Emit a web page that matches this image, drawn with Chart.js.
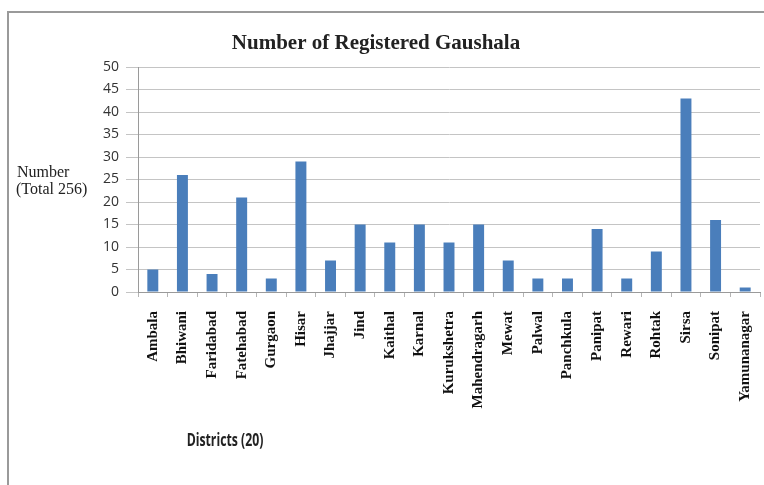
<!DOCTYPE html>
<html>
<head>
<meta charset="utf-8">
<script src="https://cdn.jsdelivr.net/npm/chart.js@4.4.1/dist/chart.umd.min.js"></script>
<style>
  html, body { margin: 0; padding: 0; background: #fff; }
  #wrap { width: 764px; height: 485px; position: relative; }
</style>
</head>
<body>
<div id="wrap"><canvas id="c"></canvas></div>
<script>
const districts = ['Ambala', 'Bhiwani', 'Faridabad', 'Fatehabad', 'Gurgaon', 'Hisar', 'Jhajjar', 'Jind',
  'Kaithal', 'Karnal', 'Kurukshetra', 'Mahendragarh', 'Mewat', 'Palwal', 'Panchkula', 'Panipat',
  'Rewari', 'Rohtak', 'Sirsa', 'Sonipat', 'Yamunanagar'];
const gaushalas = [5, 26, 4, 21, 3, 29, 7, 15, 11, 15, 11, 15, 7, 3, 3, 14, 3, 9, 43, 16, 1];
const yTicks = [0, 5, 10, 15, 20, 25, 30, 35, 40, 45, 50];

const chartTitle = 'Number of Registered Gaushala';
const yLabel = ['Number', '(Total 256)'];
const xLabel = 'Districts (20)';

// frame + free-floating texts (the original is an Excel chart pasted into a doc)
const decor = {
  id: 'decor',
  beforeDraw(chart) {
    const ctx = chart.ctx;
    ctx.save();
    ctx.fillStyle = '#fff';
    ctx.fillRect(0, 0, chart.width, chart.height);
    ctx.strokeStyle = '#9a9a9a';
    ctx.lineWidth = 2;
    ctx.beginPath();
    ctx.moveTo(8, chart.height);
    ctx.lineTo(8, 12);
    ctx.lineTo(chart.width, 12);
    ctx.stroke();
    ctx.restore();
  },
  afterDraw(chart) {
    const ctx = chart.ctx;
    ctx.save();
    ctx.fillStyle = '#222';
    ctx.textAlign = 'center';
    ctx.textBaseline = 'middle';
    ctx.font = 'bold 21px "Liberation Serif", "Times New Roman", serif';
    ctx.fillText(chartTitle, 376, 44);

    ctx.textAlign = 'left';
    ctx.font = '16px "Liberation Serif", "Times New Roman", serif';
    ctx.fillText(yLabel[0], 17, 173);
    ctx.fillText(yLabel[1], 16, 190);

    // Calibri-ish narrow bold: squeeze Open Sans a little
    ctx.font = 'bold 17px "Open Sans", sans-serif';
    ctx.textAlign = 'center';
    ctx.translate(225, 441);
    ctx.scale(0.72, 1);
    ctx.fillText(xLabel, 0, 0);
    ctx.restore();
  }
};

new Chart(document.getElementById('c'), {
  type: 'bar',
  data: {
    labels: districts,
    datasets: [{
      data: gaushalas,
      backgroundColor: '#4a7ebb',
      borderWidth: 0,
      barPercentage: 0.37,
      categoryPercentage: 1.0
    }]
  },
  options: {
    responsive: true,
    maintainAspectRatio: false,
    animation: false,
    layout: { padding: { top: 67, right: 4, left: 0, bottom: 0 } },
    plugins: {
      legend: { display: false },
      tooltip: { enabled: false },
      title: { display: false }
    },
    scales: {
      x: {
        grid: { display: true, drawOnChartArea: false, offset: true, color: '#b5b5b5', tickLength: 5 },
        border: { color: '#9a9a9a', width: 1 },
        ticks: {
          minRotation: 90, maxRotation: 90, autoSkip: false, padding: 14,
          color: '#111',
          font: { family: '"Liberation Serif", "Times New Roman", serif', size: 15, weight: 'bold' }
        },
        afterFit(scale) {
          scale.height = 193;
          scale.paddingLeft = 0;
          scale.paddingRight = 0;
        }
      },
      y: {
        min: 0, max: 50,
        afterBuildTicks(scale) { scale.ticks = yTicks.map(v => ({ value: v })); },
        grid: { color: '#c4c4c4', tickLength: 12 },
        border: { color: '#9a9a9a', width: 1 },
        ticks: {
          padding: 7, color: '#333',
          font: { family: '"Open Sans", sans-serif', size: 14 }
        },
        afterFit(scale) {
          scale.width = 138;
          scale.paddingTop = 0;
          scale.paddingBottom = 0;
        }
      }
    }
  },
  plugins: [decor]
});
</script>
</body>
</html>
